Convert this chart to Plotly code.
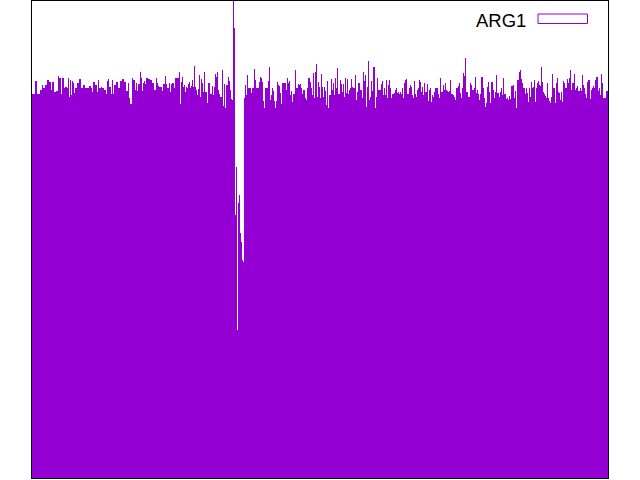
import plotly.graph_objects as go

# Bar heights (one bar per column, left to right)
seg_a = [384,384,384,397,397,384,384,384,388,388,
         393,390,390,393,393,398,398,396,396,388,
         396,396,386,386,387,387,402,400,400,384,
         400,400,390,391,391,390,400,381,398,383,
         397,395,385,390,390,395,395,399,399,390,
         390,393,393,390,390,390,390,392,392,390,
         386,396,396,393,393,386,398,390,390,391,
         390,390,388,388,384,397,399,391,391,384,
         398,384,393,393,396,396,390,390,397,397,
         399,399,396,396,387,387,395,380,374,374,
         400,398,398,388,395,387,394,394]
seg_b = [406,400,387,395,397,394,400,400,399,399,
         398,398,395,395,388,388,400,395,392,391,
         391,391,387,394,394,402,394,390,390,395,
         386,394,395,395,390,400,400,400,400,406,
         374,396,401,391,393,386,391,390,394,396,
         390,392,398,391,412,391,388,383,389,403,
         381,399,395,386,406,386,386,375,395,395,
         384,384,392,383,391,404,401,406,388,384,
         381,381,408,372,394,370,393,393,401,397,
         388,379,378,477,450]
seg_dip = [263,311,148,275,283,245,236,218,216]
seg_c = [380,393,383,403,390,390,390,385,390,390,
         409,398,390,390,390,396,401,400,396,377,
         370,390,390,390,397,411,378,383,390,387,
         377,370,377,396,393,392,385,374,395,395,
         395,395,388,400,395,397,383,387,376,384,
         384,408,390,390,394,393,394,390,384,388,
         388,380,378,390,400,400,396,390,383,405,
         380,406,414,381,396,391,380,404,391,381,
         391,387,373,397,370,383,383,399,388,395,
         383,400,390,410,384,384]
seg_d = [398,394,386,394,381,400,385,399,384,388,
         390,399,391,390,390,403,378,386,395,395,
         388,388,380,406,397,403,371,391,417,378,
         381,397,387,411,411,370,381,400,388,388,
         388,394,397,383,390,383,398,380,393,398,
         390,380,384,384,385,388,390,385,386,384,
         386,384,390,380,395,398,399,384,384,390,
         393,391,383,380,397,384,381,388,390,398,
         396,386,391,383,395,386,386,394,377,388,
         390,376,383,381,386,390,390,390,384,380]
seg_e = [400,386,386,393,388,395,388,387,386,387,
         398,384,384,383,381,378,390,390,392,395,
         385,380,390,405,402,420,386,386,381,381,
         395,393,388,388,390,401,385,388,384,378,
         384,401,401,390,380,371,375,391,396,386,
         375,396,396,388,380,386,403,385,385,381,
         386,390,383,400,384,384,379,380,378,382,
         379,392,392,393,380,387,370,398,398,406,
         408,399,395,390,390,384,390,385,376,390,
         381,396,390,391,398,376,390,395,397,393]
seg_f = [392,411,396,386,384,382,380,395,380,377,
         375,381,404,390,390,375,395,400,386,385,
         378,386,376,397,395,390,390,399,395,400,
         408,388,395,395,404,388,390,392,387,387,
         390,387,403,393,390,384,380,396,398,398,
         379,388,390,392,390,398,401,401,387,390,
         383,404,395,380,380,380,387,387]

ARG1 = seg_a + seg_b + seg_dip + seg_c + seg_d + seg_e + seg_f
series_name = "ARG1"
color = "#9400D3"

x_idx = list(range(len(ARG1)))
n = len(ARG1)
ymax = max(ARG1)

fig = go.Figure()
fig.add_trace(go.Bar(x=x_idx, y=ARG1, name=series_name,
                     marker=dict(color=color, line=dict(width=0)),
                     showlegend=False))

L, R, T, B = 32, 32, 1, 2
W, H = 640, 480
pw, ph = W - L - R, H - T - B

def px_x(p):
    return (p - L) / pw

def px_y(p):
    return (H - B - p) / ph

fig.add_annotation(text=series_name, xref="paper", yref="paper",
                   x=px_x(528), y=px_y(20.5), xanchor="right", yanchor="middle",
                   showarrow=False,
                   font=dict(family="Liberation Sans, Arial, sans-serif", size=18.5, color="black"))
fig.add_shape(type="rect", xref="paper", yref="paper",
              x0=px_x(538), x1=px_x(587.5), y0=px_y(14), y1=px_y(23.5),
              line=dict(color=color, width=1), fillcolor="white")

fig.update_layout(
    width=W, height=H, autosize=False,
    margin=dict(l=L, r=R, t=T, b=B, pad=0),
    paper_bgcolor="white", plot_bgcolor="white",
    bargap=0,
    xaxis=dict(range=[-0.5, n - 0.5], showgrid=False, zeroline=False,
               showticklabels=False, ticks="", showline=True, linecolor="black",
               linewidth=1, mirror=True),
    yaxis=dict(range=[0, ymax], showgrid=False, zeroline=False,
               showticklabels=False, ticks="", showline=True, linecolor="black",
               linewidth=1, mirror=True),
)

fig.write_html("out.html")
